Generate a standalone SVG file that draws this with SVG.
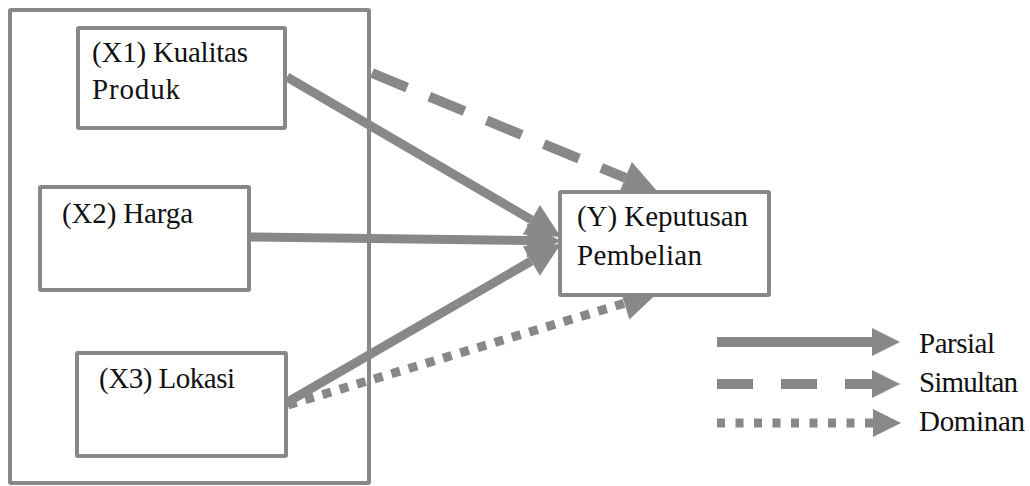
<svg xmlns="http://www.w3.org/2000/svg" width="1030" height="486" viewBox="0 0 1030 486">
<style>
.box{fill:#fff;stroke:#888;stroke-width:4}
.frame{fill:none;stroke:#888;stroke-width:4}
.t{font-family:"Liberation Serif","Times New Roman",serif;font-size:29px;fill:#111}
.solid{stroke:#888;stroke-width:9;fill:none}
.dash{stroke:#888;stroke-width:10;fill:none;stroke-dasharray:38 24}
.dot{stroke:#888;stroke-width:9;fill:none;stroke-dasharray:9 9}
</style>
<defs>
<marker id="head" markerUnits="userSpaceOnUse" markerWidth="34" markerHeight="34" refX="0" refY="16" orient="auto" viewBox="0 0 32 32" overflow="visible">
<path d="M0,0 L32,16 L0,32 z" fill="#888"/>
</marker>
<marker id="lhead" markerUnits="userSpaceOnUse" markerWidth="30" markerHeight="30" refX="0" refY="14" orient="auto" viewBox="0 0 30 28" overflow="visible">
<path d="M0,0 L28,14 L0,28 z" fill="#888"/>
</marker>
</defs>
<rect x="10" y="10" width="359" height="473" class="frame" rx="1"/>
<g id="connectors">
<line x1="287" y1="77" x2="531.4" y2="219.8" class="solid" marker-end="url(#head)"/>
<line x1="249" y1="237" x2="527" y2="240.5" class="solid" marker-end="url(#head)"/>
<line x1="286" y1="403" x2="531.3" y2="261" class="solid" marker-end="url(#head)"/>
<line x1="372" y1="73" x2="625.4" y2="177.8" class="dash" marker-end="url(#head)"/>
<line x1="288" y1="405" x2="624.4" y2="303.3" class="dot" marker-end="url(#head)"/>
</g>
<g id="x1">
<rect x="78" y="28" width="207" height="100" class="box" rx="1"/>
<text class="t" x="92" y="62" textLength="156">(X1) Kualitas</text>
<text class="t" x="92" y="99" textLength="88">Produk</text>
</g>
<g id="x2">
<rect x="40" y="187" width="209" height="103" class="box" rx="1"/>
<text class="t" x="62" y="223" textLength="131">(X2) Harga</text>
</g>
<g id="x3">
<rect x="77" y="353" width="209" height="103" class="box" rx="1"/>
<text class="t" x="99" y="388" textLength="136">(X3) Lokasi</text>
</g>
<g id="y">
<rect x="560" y="192" width="209" height="103" class="box" rx="1"/>
<text class="t" x="577" y="226" textLength="171">(Y) Keputusan</text>
<text class="t" x="577" y="265" textLength="125">Pembelian</text>
</g>
<g id="legend">
<line x1="717" y1="342" x2="872" y2="342" class="solid" style="stroke-width:10" marker-end="url(#lhead)"/>
<line x1="717" y1="384" x2="872" y2="384" class="dash" style="stroke-dasharray:36 28" marker-end="url(#lhead)"/>
<line x1="717" y1="423" x2="873" y2="423" class="dot" style="stroke-dasharray:8 10.5" marker-end="url(#lhead)"/>
<text class="t" x="919" y="353" textLength="76">Parsial</text>
<text class="t" x="919" y="392" textLength="99">Simultan</text>
<text class="t" x="919" y="431" textLength="106">Dominan</text>
</g>
</svg>
